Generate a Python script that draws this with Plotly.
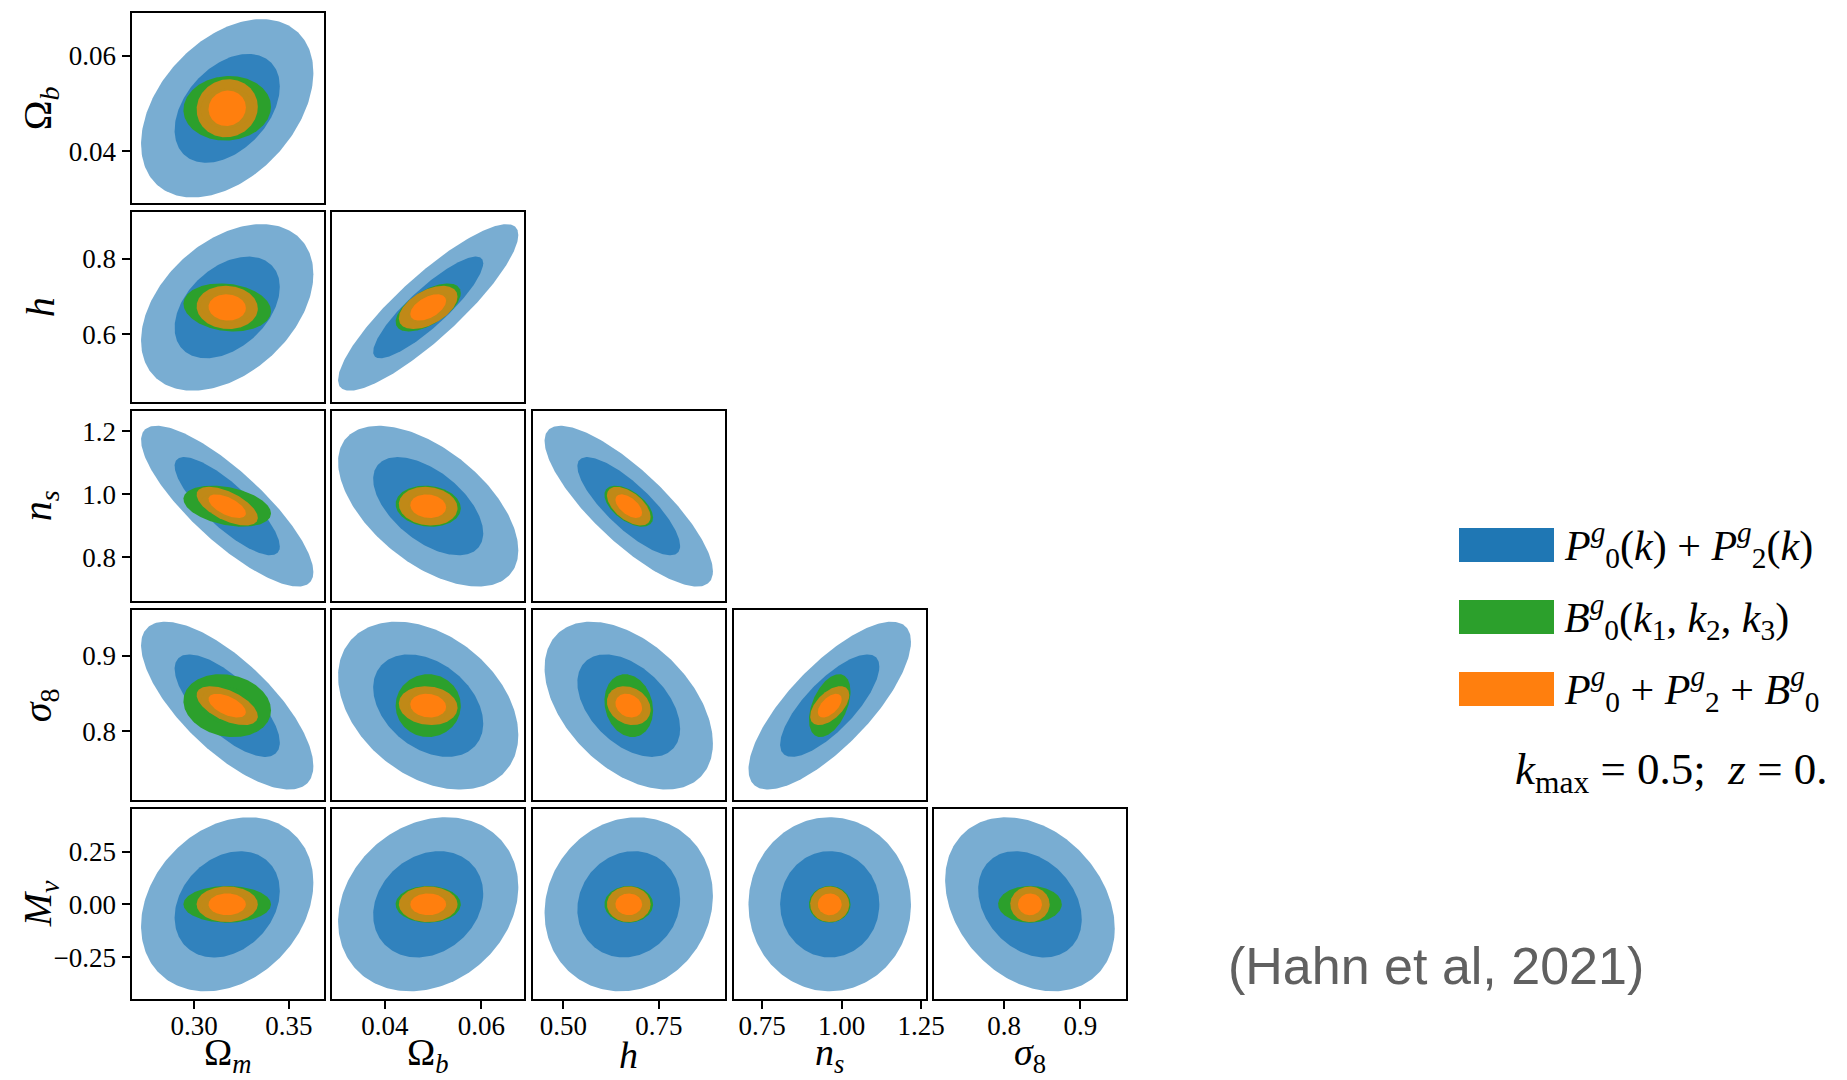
import numpy as np
import plotly.graph_objects as go

W, H = 1847, 1080

# ---------------- data ----------------
param_labels = ["Ω<sub><i>m</i></sub>", "Ω<sub><i>b</i></sub>", "<i>h</i>",
                "<i>n</i><sub><i>s</i></sub>", "<i>σ</i><sub>8</sub>", "<i>M</i><sub><i>ν</i></sub>"]
fiducial = [0.3175, 0.049, 0.6711, 0.9624, 0.834, 0.0]
axis_ranges = [[0.2670, 0.3683], [0.0291, 0.0689], [0.4205, 0.9225],
               [0.660, 1.264], [0.7085, 0.9604], [-0.45, 0.45]]

# x tick labels (bottom row, params 0..4) and y tick labels (left column, params 1..5)
x_tickvals = [[0.30, 0.35], [0.04, 0.06], [0.50, 0.75], [0.75, 1.00, 1.25], [0.8, 0.9]]
x_ticktext = [["0.30", "0.35"], ["0.04", "0.06"], ["0.50", "0.75"], ["0.75", "1.00", "1.25"], ["0.8", "0.9"]]
y_tickvals = [[0.04, 0.06], [0.6, 0.8], [0.8, 1.0, 1.2], [0.8, 0.9], [-0.25, 0.0, 0.25]]
y_ticktext = [["0.04", "0.06"], ["0.6", "0.8"], ["0.8", "1.0", "1.2"], ["0.8", "0.9"], ["−0.25", "0.00", "0.25"]]

# marginal 1-sigma errors for each probe
sigma_P = [0.0183, 0.00752, 0.0886, 0.1029, 0.0448, 0.166]
sigma_B = [0.0093, 0.00272, 0.0256, 0.0263, 0.0168, 0.035]
sigma_PB = [0.0065, 0.00245, 0.0230, 0.0248, 0.0104, 0.034]

# pair correlations, order: (0,1),(0,2),(1,2),(0,3),(1,3),(2,3),(0,4),(1,4),(2,4),(3,4),(0,5),(1,5),(2,5),(3,5),(4,5)
pair_list = [(0, 1), (0, 2), (1, 2), (0, 3), (1, 3), (2, 3), (0, 4), (1, 4), (2, 4), (3, 4),
             (0, 5), (1, 5), (2, 5), (3, 5), (4, 5)]
rho_P = [0.40, 0.40, 0.87, -0.82, -0.55, -0.81, -0.72, -0.35, -0.45, 0.76, 0.25, 0.20, 0.10, 0.0, -0.28]
rho_B = [0.05, -0.15, 0.60, -0.35, -0.10, -0.55, -0.15, 0.0, -0.15, 0.45, 0.0, 0.0, 0.0, 0.0, 0.0]
rho_PB = [0.05, -0.05, 0.50, -0.60, -0.10, -0.55, -0.55, -0.10, -0.20, 0.55, 0.0, 0.0, 0.0, 0.0, 0.0]

legend_labels = [
    "<i>P</i><sup><i>g</i></sup><sub>0</sub>(<i>k</i>) + <i>P</i><sup><i>g</i></sup><sub>2</sub>(<i>k</i>)",
    "<i>B</i><sup><i>g</i></sup><sub>0</sub>(<i>k</i><sub>1</sub>, <i>k</i><sub>2</sub>, <i>k</i><sub>3</sub>)",
    "<i>P</i><sup><i>g</i></sup><sub>0</sub> + <i>P</i><sup><i>g</i></sup><sub>2</sub> + <i>B</i><sup><i>g</i></sup><sub>0</sub>",
]
note_text = "<i>k</i><sub>max</sub> = 0.5;  <i>z</i> = 0."
credit_text = "(Hahn et al, 2021)"

# ---------------- styles ----------------
chi2_levels = [6.17, 2.30]  # 95%, 68% for 2 dof
series = [
    (sigma_P, rho_P, ["rgb(121,173,210)", "rgb(49,130,189)"]),
    (sigma_B, rho_B, ["rgb(44,160,44)", "rgb(44,160,44)"]),
    (sigma_PB, rho_PB, ["rgba(255,127,14,0.7)", "rgb(255,127,14)"]),
]
legend_colors = ["#1f77b4", "#2ca02c", "#ff7f0e"]

col_left0, col_pitch, panel_w = 131.5, 200.7, 192.0
row_top0, row_pitch, panel_h = 13.3, 199.0, 190.0

SERIF = "Liberation Serif, Times New Roman, serif"

fig = go.Figure()
t = np.linspace(0, 2 * np.pi, 241)

n = 0
annotations = []
for r in range(5):          # y param index r+1
    j = r + 1
    for c in range(r + 1):  # x param index c
        i = c
        n += 1
        xa = "x" if n == 1 else f"x{n}"
        ya = "y" if n == 1 else f"y{n}"
        k = pair_list.index((i, j))
        for sig, rho, cols in series:
            for lev, col in zip(chi2_levels, cols):
                s = np.sqrt(lev)
                p = rho[k]
                xs = fiducial[i] + s * sig[i] * np.cos(t)
                ys = fiducial[j] + s * sig[j] * (p * np.cos(t) + np.sqrt(1 - p * p) * np.sin(t))
                fig.add_trace(go.Scatter(x=xs, y=ys, xaxis=xa, yaxis=ya, mode="lines",
                                         fill="toself", fillcolor=col, line=dict(width=0),
                                         hoverinfo="skip", showlegend=False))
        left = col_left0 + c * col_pitch
        top = row_top0 + r * row_pitch
        xdom = [left / W, (left + panel_w) / W]
        ydom = [1 - (top + panel_h) / H, 1 - top / H]
        xkey = "xaxis" if n == 1 else f"xaxis{n}"
        ykey = "yaxis" if n == 1 else f"yaxis{n}"
        bottom = (r == 4)
        leftcol = (c == 0)
        xdict = dict(domain=xdom, range=axis_ranges[i], anchor=ya, showgrid=False, zeroline=False,
                     showline=True, mirror=True, linecolor="black", linewidth=2,
                     fixedrange=True, automargin=False)
        if bottom:
            xdict.update(ticks="outside", ticklen=8, tickwidth=2, tickcolor="black",
                         tickvals=x_tickvals[i], ticktext=x_ticktext[i], showticklabels=True,
                         ticklabelstandoff=-7,
                         tickfont=dict(family=SERIF, size=27, color="black"))
        else:
            xdict.update(ticks="", showticklabels=False)
        ydict = dict(domain=ydom, range=axis_ranges[j], anchor=xa, showgrid=False, zeroline=False,
                     showline=True, mirror=True, linecolor="black", linewidth=2,
                     fixedrange=True, automargin=False)
        if leftcol:
            ydict.update(ticks="outside", ticklen=8, tickwidth=2, tickcolor="black",
                         tickvals=y_tickvals[r], ticktext=y_ticktext[r], showticklabels=True,
                         tickfont=dict(family=SERIF, size=27, color="black"))
        else:
            ydict.update(ticks="", showticklabels=False)
        fig.layout[xkey] = xdict
        fig.layout[ykey] = ydict

# axis titles
for c in range(5):
    cx = col_left0 + c * col_pitch + panel_w / 2
    annotations.append(dict(text=param_labels[c], x=cx / W, y=1 - 1055 / H, xref="paper", yref="paper",
                            xanchor="center", yanchor="middle", showarrow=False,
                            font=dict(family=SERIF, size=38, color="black")))
for r in range(5):
    cy = row_top0 + r * row_pitch + panel_h / 2
    annotations.append(dict(text=param_labels[r + 1], x=40 / W, y=1 - cy / H, xref="paper", yref="paper",
                            xanchor="center", yanchor="middle", textangle=-90, showarrow=False,
                            font=dict(family=SERIF, size=40, color="black")))

# custom legend
shapes = []
leg_y = [545, 617, 689]
for lab, colr, yc in zip(legend_labels, legend_colors, leg_y):
    shapes.append(dict(type="rect", xref="paper", yref="paper",
                       x0=1459 / W, x1=1554 / W, y0=1 - (yc + 17) / H, y1=1 - (yc - 17) / H,
                       fillcolor=colr, line=dict(width=0)))
    annotations.append(dict(text=lab, x=1562 / W, y=1 - yc / H, xref="paper", yref="paper",
                            xanchor="left", yanchor="middle", showarrow=False,
                            font=dict(family=SERIF, size=42, color="black")))
annotations.append(dict(text=note_text, x=1830 / W, y=1 - 772 / H, xref="paper", yref="paper",
                        xanchor="right", yanchor="middle", showarrow=False,
                        font=dict(family=SERIF, size=45, color="black")))
annotations.append(dict(text=credit_text, x=1436 / W, y=1 - 966 / H, xref="paper", yref="paper",
                        xanchor="center", yanchor="middle", showarrow=False,
                        font=dict(family="Liberation Sans, Arial, sans-serif", size=52, color="#606060")))

fig.update_layout(width=W, height=H, autosize=False, margin=dict(l=0, r=0, t=0, b=0),
                  paper_bgcolor="white", plot_bgcolor="white",
                  annotations=annotations, shapes=shapes, showlegend=False)

page_fix = """
document.documentElement.style.margin='0';
document.body.style.margin='0';
document.documentElement.style.overflow='hidden';
document.body.style.overflow='hidden';
"""
fig.write_html("out.html", config={"displayModeBar": False, "responsive": False},
               post_script=page_fix)
